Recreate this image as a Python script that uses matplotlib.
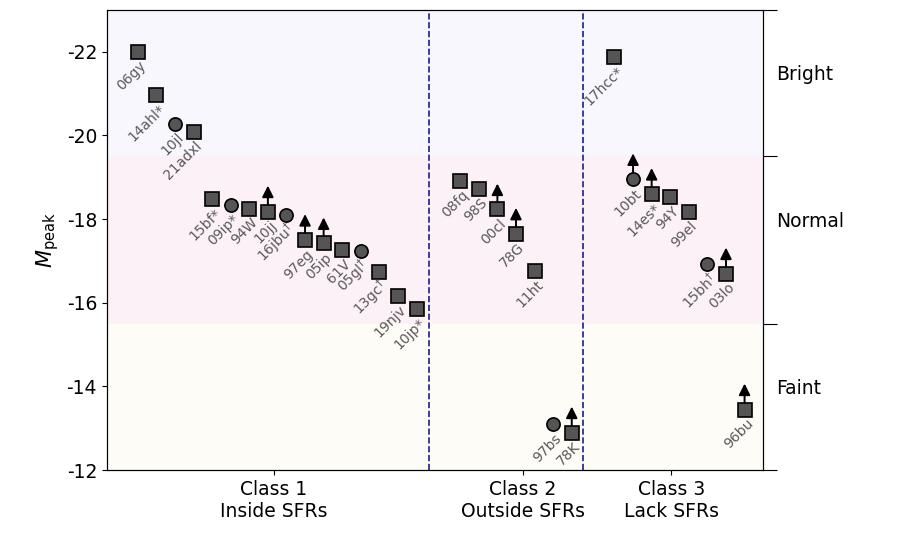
import numpy as np
import matplotlib.pyplot as plt

plt.rcParams['axes.unicode_minus'] = False

# Supernova names, peak magnitudes, marker type (s=square, o=circle), lower-limit flag
names1 = ['06gy', '14ahl*', '10jl', '21adxl', '15bf*', '09ip*', '94W', '10jj', '16jbu$^{\\dagger}$',
          '97eg', '05ip', '61V', '05gl$^{\\dagger}$', '13gc$^{\\dagger}$', '19njv', '10jp*']
mags1 = [-22.0, -20.97, -20.28, -20.09, -18.48, -18.33, -18.25, -18.18, -18.1,
         -17.5, -17.42, -17.27, -17.24, -16.74, -16.16, -15.86]
mk1 = ['s', 's', 'o', 's', 's', 'o', 's', 's', 'o', 's', 's', 's', 'o', 's', 's', 's']
lim1 = [0, 0, 0, 0, 0, 0, 0, 1, 0, 1, 1, 0, 0, 0, 0, 0]

names2 = ['08fq', '98S', '00cl', '78G', '11ht', '97bs', '78K']
mags2 = [-18.91, -18.72, -18.23, -17.65, -16.77, -13.1, -12.9]
mk2 = ['s', 's', 's', 's', 's', 'o', 's']
lim2 = [0, 0, 1, 1, 0, 0, 1]

names3 = ['17hcc*', '10bt', '14es*', '94Y', '99el', '15bh$^{\\dagger}$', '03lo', '96bu']
mags3 = [-21.88, -18.95, -18.6, -18.52, -18.17, -16.93, -16.7, -13.45]
mk3 = ['s', 'o', 's', 's', 's', 'o', 's', 's']
lim3 = [0, 1, 1, 0, 0, 0, 1, 1]

class_labels = ['Class 1\nInside SFRs', 'Class 2\nOutside SFRs', 'Class 3\nLack SFRs']

# x layout
x1 = np.arange(len(names1))
x2 = 17.35 + np.arange(len(names2))
x3 = 25.65 + np.arange(len(names3))

fig = plt.figure(figsize=(8.97, 5.48), dpi=100)
ax = fig.add_axes([0.119, 0.142, 0.732, 0.840])

ax.axhspan(-23, -19.5, color='#f7f7fd', zorder=0)
ax.axhspan(-19.5, -15.5, color='#fcf1f7', zorder=0)
ax.axhspan(-15.5, -12, color='#fdfcf7', zorder=0)

for xs, names, mags, mks, lims in [(x1, names1, mags1, mk1, lim1),
                                   (x2, names2, mags2, mk2, lim2),
                                   (x3, names3, mags3, mk3, lim3)]:
    for x, n, m, k, l in zip(xs, names, mags, mks, lims):
        if l:
            ax.annotate('', xy=(x, m - 0.62), xytext=(x, m),
                        arrowprops=dict(arrowstyle='-|>', color='k', lw=1.4,
                                        mutation_scale=17, shrinkA=0, shrinkB=0),
                        zorder=2)
        ax.plot(x, m, marker=k, ms=10 if k == 's' else 9.5, mfc='#555555',
                mec='black', mew=1.2, ls='none', zorder=3)
        ax.annotate(n, xy=(x, m), xytext=(4.5, -8.5), textcoords='offset points',
                    rotation=45, rotation_mode='anchor', ha='right', va='center',
                    fontsize=10, color='#595959', zorder=4)

ax.axvline(15.67, color='#1c1c8f', ls='--', lw=1.2, zorder=1)
ax.axvline(23.96, color='#1c1c8f', ls='--', lw=1.2, zorder=1)

ax.set_xlim(-1.67, 33.66)
ax.set_ylim(-12, -23)
ax.set_yticks([-22, -20, -18, -16, -14, -12])
ax.set_yticklabels(['-22', '-20', '-18', '-16', '-14', '-12'], fontsize=13.5)
ax.set_xticks([7.32, 20.73, 28.7])
ax.set_xticklabels(class_labels, fontsize=13.5)
ax.set_ylabel(r'$M_{\rm peak}$', fontsize=15)

ax2 = ax.twinx()
ax2.set_ylim(-12, -23)
ax2.set_yticks([-23, -19.5, -15.5, -12])
ax2.set_yticklabels([])
ax2.tick_params(axis='y', length=10)

for lab, yv in [('Bright', -21.45), ('Normal', -17.95), ('Faint', -13.95)]:
    ax.text(1.02, yv, lab, transform=ax.get_yaxis_transform(), fontsize=13.5,
            ha='left', va='center')

fig.savefig('out.png', dpi=100)
